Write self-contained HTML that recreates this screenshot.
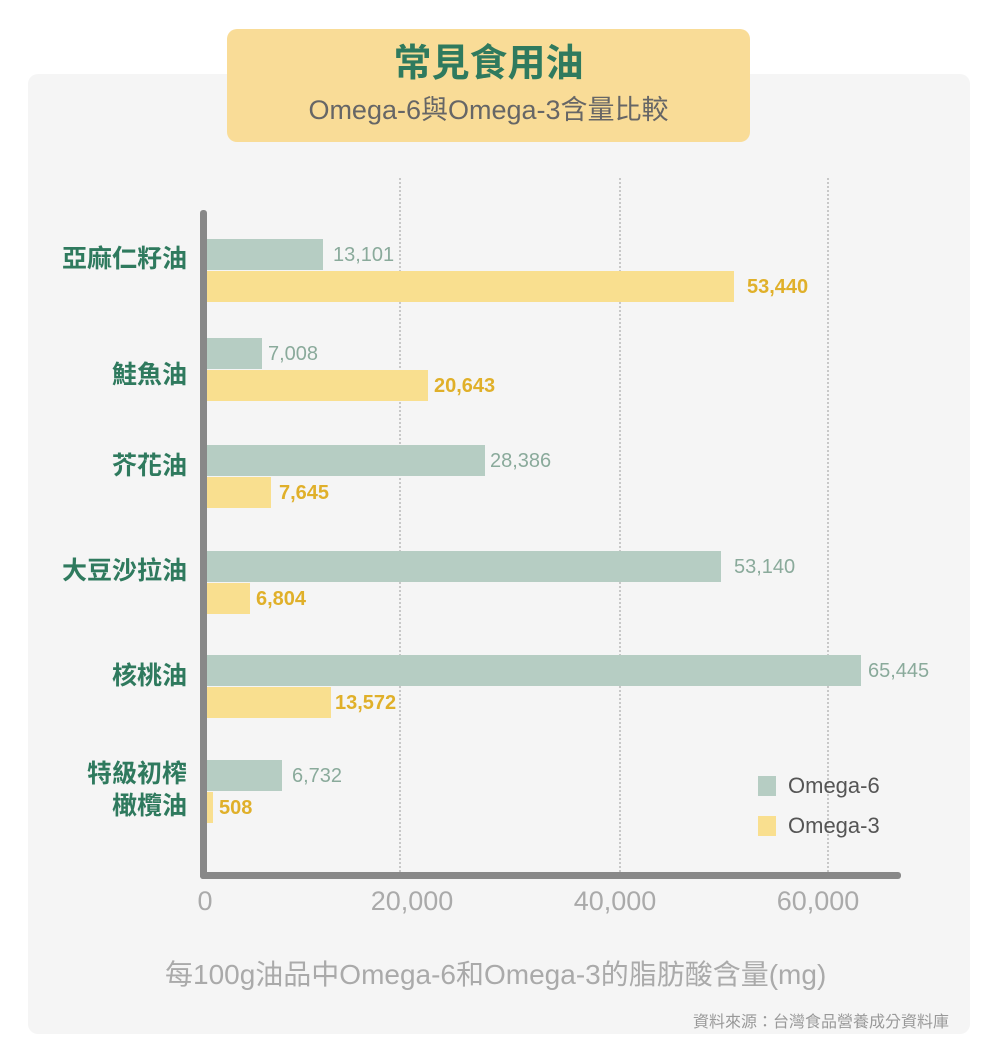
<!DOCTYPE html>
<html><head><meta charset="utf-8"><style>
body{margin:0;width:1000px;height:1044px;background:#fff;position:relative;font-family:"Liberation Sans","Noto Sans CJK TC",sans-serif;overflow:hidden}
.a{position:absolute}
.panel{left:28px;top:74px;width:942px;height:960px;background:#f5f5f5;border-radius:10px}
.tbox{left:227px;top:29px;width:523px;height:113px;background:#f9dc97;border-radius:10px;text-align:center}
.cat{right:813px;font-size:25px;font-weight:bold;color:#2f7a5e;text-align:right;line-height:32px;white-space:nowrap}
.g{background:#b6cdc3;left:207px;height:31px}
.y{background:#f9df8f;left:207px;height:31px}
.vg{font-size:20px;color:#8aaa9b;line-height:31px}
.vy{font-size:20px;color:#e0b02a;line-height:31px;font-weight:bold}
.grid{top:178px;height:694px;border-left:2px dotted #c8c8c8;width:0}
.tick{top:886px;font-size:27px;color:#aaa;transform:translateX(-50%)}
</style></head><body>
<div class="a panel"></div>
<div class="a tbox">
<div style="margin-top:10px;font-size:38px;font-weight:bold;color:#2f7a5e;line-height:50px">常見食用油</div>
<div style="font-size:27px;color:#666;line-height:34px;margin-top:4px;white-space:nowrap">Omega-6與Omega-3含量比較</div>
</div>
<div class="a grid" style="left:399px"></div>
<div class="a grid" style="left:619px"></div>
<div class="a grid" style="left:827px"></div>
<div class="a" style="left:200px;top:210px;width:7px;height:669px;background:#888;border-radius:3px"></div>
<div class="a" style="left:200px;top:872px;width:701px;height:7px;background:#888;border-radius:3px"></div>

<div class="a cat" style="top:243px">亞麻仁籽油</div>
<div class="a g" style="top:239px;width:116px"></div><div class="a vg" style="left:333px;top:240px">13,101</div>
<div class="a y" style="top:271px;width:527px"></div><div class="a vy" style="left:747px;top:272px">53,440</div>

<div class="a cat" style="top:359px">鮭魚油</div>
<div class="a g" style="top:338px;width:55px"></div><div class="a vg" style="left:268px;top:339px">7,008</div>
<div class="a y" style="top:370px;width:221px"></div><div class="a vy" style="left:434px;top:371px">20,643</div>

<div class="a cat" style="top:450px">芥花油</div>
<div class="a g" style="top:445px;width:278px"></div><div class="a vg" style="left:490px;top:446px">28,386</div>
<div class="a y" style="top:477px;width:64px"></div><div class="a vy" style="left:279px;top:478px">7,645</div>

<div class="a cat" style="top:555px">大豆沙拉油</div>
<div class="a g" style="top:551px;width:514px"></div><div class="a vg" style="left:734px;top:552px">53,140</div>
<div class="a y" style="top:583px;width:43px"></div><div class="a vy" style="left:256px;top:584px">6,804</div>

<div class="a cat" style="top:660px">核桃油</div>
<div class="a g" style="top:655px;width:654px"></div><div class="a vg" style="left:868px;top:656px">65,445</div>
<div class="a y" style="top:687px;width:124px"></div><div class="a vy" style="left:335px;top:688px">13,572</div>

<div class="a cat" style="top:758px">特級初榨<br>橄欖油</div>
<div class="a g" style="top:760px;width:75px"></div><div class="a vg" style="left:292px;top:761px">6,732</div>
<div class="a y" style="top:792px;width:6px"></div><div class="a vy" style="left:219px;top:793px">508</div>

<div class="a" style="left:758px;top:776px;width:18px;height:20px;background:#b6cdc3"></div>
<div class="a" style="left:788px;top:773px;font-size:22px;color:#555">Omega-6</div>
<div class="a" style="left:758px;top:816px;width:18px;height:20px;background:#f9df8f"></div>
<div class="a" style="left:788px;top:813px;font-size:22px;color:#555">Omega-3</div>

<div class="a tick" style="left:205px">0</div>
<div class="a tick" style="left:412px">20,000</div>
<div class="a tick" style="left:615px">40,000</div>
<div class="a tick" style="left:818px">60,000</div>

<div class="a" style="left:165px;top:953px;font-size:28px;color:#aaa;white-space:nowrap">每100g油品中Omega-6和Omega-3的脂肪酸含量(mg)</div>
<div class="a" style="left:693px;top:1008px;font-size:16px;color:#999;white-space:nowrap">資料來源：台灣食品營養成分資料庫</div>
</body></html>
